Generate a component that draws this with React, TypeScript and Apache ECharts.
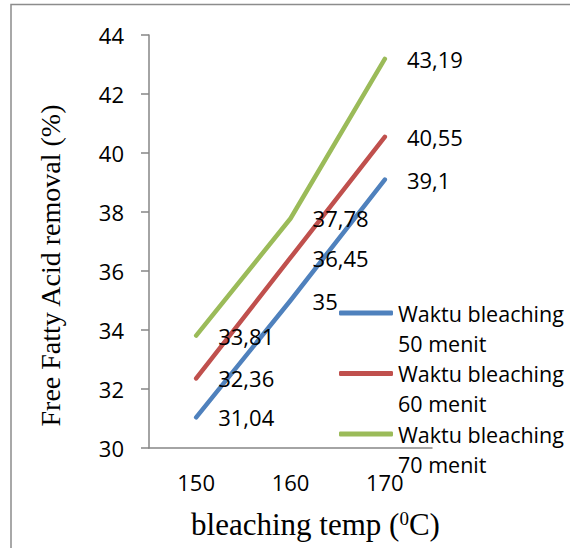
import React, { useEffect, useRef } from "react";
import * as echarts from "echarts";

const temps = ["150", "160", "170"];
const seriesNames = [
  "Waktu bleaching\n50 menit",
  "Waktu bleaching\n60 menit",
  "Waktu bleaching\n70 menit",
];
const ffa50 = [31.04, 35, 39.1];
const ffa60 = [32.36, 36.45, 40.55];
const ffa70 = [33.81, 37.78, 43.19];
const colors = ["#4F81BD", "#C0504D", "#9BBB59"];

const SANS = "Open Sans";
const SERIF = "Liberation Serif";

export default function App() {
  const ref = useRef<HTMLDivElement>(null);

  useEffect(() => {
    if (!ref.current) return;
    const chart = echarts.init(ref.current, null, { renderer: "svg" });
    const values = [ffa50, ffa60, ffa70];

    chart.setOption({
      animation: false,
      backgroundColor: "#ffffff",
      graphic: [
        {
          type: "rect",
          shape: { x: 11, y: 4.5, width: 700, height: 700 },
          style: { fill: "none", stroke: "#8c8c8c", lineWidth: 1.5 },
          silent: true,
        },
      ],
      grid: { left: 149, right: 138, top: 35, bottom: 100 },
      legend: {
        orient: "vertical",
        left: 334,
        top: 263,
        icon: "roundRect",
        itemWidth: 54,
        itemHeight: 5,
        itemGap: -29.5,
        // a blank first line lifts the name so its first line sits beside the swatch
        formatter: (name: string) => "\n" + name,
        textStyle: {
          fontFamily: SANS,
          fontSize: 21.5,
          color: "#000",
          lineHeight: 30,
        },
        data: seriesNames,
      },
      xAxis: {
        type: "category",
        data: temps,
        boundaryGap: true,
        axisLine: { lineStyle: { color: "#868686", width: 1.5 } },
        axisTick: { show: false },
        axisLabel: {
          fontFamily: SANS,
          fontSize: 22,
          color: "#000",
          margin: 23,
        },
        name: "bleaching temp ({sup|0}C)",
        nameLocation: "middle",
        nameGap: 61,
        nameTextStyle: {
          fontFamily: SERIF,
          fontSize: 31,
          color: "#000",
          padding: [0, 0, 0, 50],
          rich: {
            sup: {
              fontFamily: SERIF,
              fontSize: 19,
              color: "#000",
              verticalAlign: "top",
              padding: [0, 0, 12, 0],
            },
          },
        },
      },
      yAxis: {
        type: "value",
        min: 30,
        max: 44,
        interval: 2,
        splitLine: { show: false },
        axisLine: { show: true, lineStyle: { color: "#868686", width: 1.5 } },
        axisTick: { show: true, length: 8, lineStyle: { color: "#868686", width: 1.5 } },
        axisLabel: {
          fontFamily: SANS,
          fontSize: 22,
          color: "#000",
          margin: 25,
        },
        name: "Free Fatty Acid removal (%)",
        nameLocation: "middle",
        nameGap: 85,
        nameTextStyle: {
          fontFamily: SERIF,
          fontSize: 28,
          color: "#000",
          padding: [0, 48, 0, 0],
        },
      },
      series: seriesNames.map((name, i) => ({
        name,
        type: "line",
        data: values[i],
        symbol: "circle",
        symbolSize: 0.1,
        showSymbol: true,
        color: colors[i],
        lineStyle: { width: 4.5, color: colors[i], cap: "round", join: "round" },
        labelLayout: { hideOverlap: false },
        label: {
          show: true,
          position: "right",
          distance: 22,
          fontFamily: SANS,
          fontSize: 22,
          color: "#000",
          formatter: (p: any) => String(p.value).replace(".", ","),
        },
      })),
    });

    return () => chart.dispose();
  }, []);

  return (
    <div
      ref={ref}
      style={{ position: "fixed", left: 0, top: 0, width: 570, height: 548 }}
    />
  );
}
